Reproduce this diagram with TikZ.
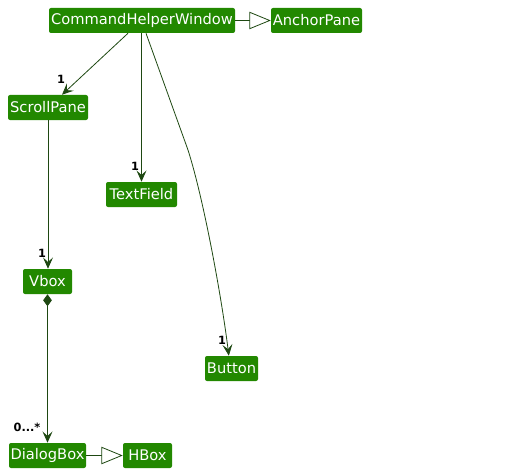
\documentclass[tikz,border=0pt]{standalone}
\usepackage{fontspec}
\setmainfont{DejaVu Sans}
\usepackage{xcolor}
\usetikzlibrary{arrows.meta}
\definecolor{boxgreen}{RGB}{34,136,0}
\definecolor{linegreen}{RGB}{30,72,18}
\tikzset{
    class-box/.style = {fill=boxgreen, text=white, rectangle, rounded corners=1.5pt, minimum height=18.75pt, inner xsep=1pt, font=\fontsize{11}{12}\selectfont},
    assoc/.style = {draw=linegreen, semithick, -{Stealth[length=8.5pt,width=7.5pt,inset=3.5pt]}},
    extends/.style = {draw=linegreen, semithick, -{Triangle[open,length=16pt,width=13pt,fill=white]}},
    mult/.style = {font=\bfseries\fontsize{8.5}{9}\selectfont, inner sep=0pt},
}

\begin{document}
\begin{tikzpicture}[x=0.75pt, y=-0.75pt]
\useasboundingbox (0,0) rectangle (516,474);
% classes
\node [class-box, minimum width=139.5pt] (window) at (142,20.5) {CommandHelperWindow};
\node [class-box, minimum width=68.25pt] (anchor) at (316.5,20.5) {AnchorPane};
\node [class-box, minimum width=60pt] (scroll) at (48,107.5) {ScrollPane};
\node [class-box, minimum width=53.25pt] (textfield) at (141.5,194.5) {TextField};
\node [class-box, minimum width=36.75pt] (vbox) at (47.5,281.5) {Vbox};
\node [class-box, minimum width=39.75pt] (button) at (231.5,368.5) {Button};
\node [class-box, minimum width=57.75pt] (dialog) at (47.5,455.5) {DialogBox};
\node [class-box, minimum width=36.75pt] (hbox) at (147.5,455.5) {HBox};
% inheritance
\draw [extends] (window) -- (anchor);
\draw [extends] (dialog) -- (hbox);
% associations
\draw [assoc] ([xshift=-10.5pt]window.south) -- ([xshift=10.5pt]scroll.north);
\node [mult] at (61,79) {1};
\draw [assoc] (window.south -| textfield.north) -- (textfield.north);
\node [mult] at (135,166) {1};
\coordinate (bend) at (188,150);
\draw [assoc] ([xshift=3pt]window.south) -- (bend) .. controls (204,200) and (222,300) .. ([xshift=-2pt]button.north);
\node [mult] at (222,340) {1};
\draw [assoc] (scroll.south) -- (scroll.south |- vbox.north);
\node [mult] at (42,253) {1};
% composition
\draw [assoc, {Diamond[length=9pt,width=6.5pt,fill=linegreen]}-{Stealth[length=8.5pt,width=7.5pt,inset=3.5pt]}] (vbox.south) -- (vbox.south |- dialog.north);
\node [mult] at (27,427) {0...*};
\end{tikzpicture}
\end{document}
